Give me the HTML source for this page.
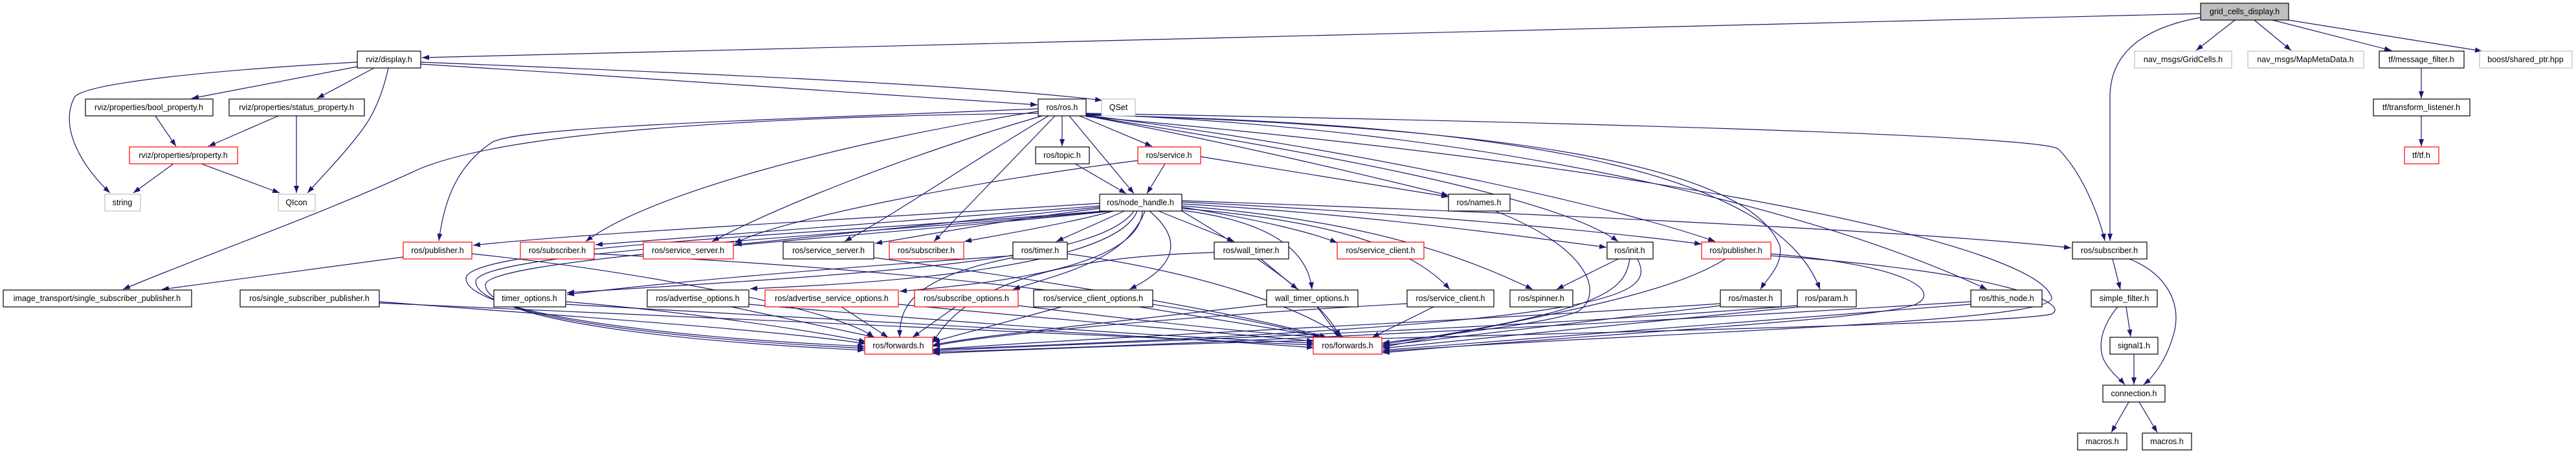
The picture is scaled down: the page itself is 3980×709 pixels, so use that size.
<!DOCTYPE html>
<html><head><meta charset="utf-8"><style>
html,body{margin:0;padding:0;background:#fff;}
svg{display:block}
text{font-family:"Liberation Sans",sans-serif;font-size:12.5px;fill:#000;text-anchor:middle}
.e{fill:none;stroke:#191970;stroke-width:1.2;marker-end:url(#a)}
.n{fill:#fff;stroke:#000;stroke-width:1.2}
.r{fill:#fff;stroke:#ff0000;stroke-width:1.2}
.g{fill:#fff;stroke:#bfbfbf;stroke-width:1.2}
</style></head><body>
<svg width="3980" height="709" viewBox="0 0 3980 709" xmlns="http://www.w3.org/2000/svg">
<defs><marker id="a" markerUnits="userSpaceOnUse" markerWidth="11" markerHeight="8" refX="11" refY="4" orient="auto"><path d="M0,0 L11,4 L0,8 z" fill="#191970"/></marker></defs>
<g>
<path class="e" d="M3400,21 L652,89"/>
<path class="e" d="M3400,27 C3300,45 3260,90 3260,150 L3260,372"/>
<path class="e" d="M3453,31 L3393,78"/>
<path class="e" d="M3483,31 L3540,78"/>
<path class="e" d="M3511,31 L3695,78"/>
<path class="e" d="M3536,31 L3835,79"/>
<path class="e" d="M552,96 C300,110 130,130 115,150 C90,200 130,260 170,298"/>
<path class="e" d="M552,103 L296,152"/>
<path class="e" d="M578,105 L490,152"/>
<path class="e" d="M600,105 C590,150 575,180 560,200 C530,240 500,270 475,298"/>
<path class="e" d="M650,96 C1000,110 1500,130 1703,155"/>
<path class="e" d="M650,99 C1000,120 1400,150 1603,162"/>
<path class="e" d="M240,179 L272,226"/>
<path class="e" d="M430,179 L322,226"/>
<path class="e" d="M458,179 L458,298"/>
<path class="e" d="M268,253 L206,298"/>
<path class="e" d="M311,253 L432,298"/>
<path class="e" d="M3741,105 L3741,152"/>
<path class="e" d="M3741,179 L3741,226"/>
<path class="e" d="M1641,179 L1641,226"/>
<path class="e" d="M1668,179 L1780,226"/>
<path class="e" d="M1652,179 L1752,299"/>
<path class="e" d="M1678,179 C1900,220 2150,280 2238,302"/>
<path class="e" d="M1604,168 C1200,185 800,195 760,220 C700,260 685,320 678,372"/>
<path class="e" d="M1604,172 C1300,220 1000,300 905,373"/>
<path class="e" d="M1610,179 C1400,240 1200,320 1100,373"/>
<path class="e" d="M1620,179 C1500,250 1400,320 1305,373"/>
<path class="e" d="M1630,179 L1443,373"/>
<path class="e" d="M1678,179 C2000,230 2400,300 2500,373"/>
<path class="e" d="M1678,178 C2100,230 2500,320 2650,373"/>
<path class="e" d="M1678,177 C2300,195 2700,250 2750,380 C2755,410 2730,430 2720,447"/>
<path class="e" d="M1678,178 C2400,190 2750,280 2812,447"/>
<path class="e" d="M1678,176 C2300,200 2800,320 3070,447"/>
<path class="e" d="M1678,175 C2500,190 3150,210 3180,230 C3220,270 3245,340 3252,372"/>
<path class="e" d="M1604,175 C1200,180 800,200 650,260 C500,330 300,400 190,447"/>
<path class="e" d="M1661,253 L1740,299"/>
<path class="e" d="M1800,253 L1772,299"/>
<path class="e" d="M1855,242 L2238,304"/>
<path class="e" d="M1758,248 C1500,280 1200,340 1135,376"/>
<path class="e" d="M1699,314 C1300,340 900,360 731,379"/>
<path class="e" d="M1699,318 C1400,340 1100,365 920,378"/>
<path class="e" d="M1699,320 C1500,340 1300,360 1135,378"/>
<path class="e" d="M1699,322 C1550,340 1450,360 1352,376"/>
<path class="e" d="M1720,326 C1650,345 1550,362 1490,373"/>
<path class="e" d="M1737,326 L1632,373"/>
<path class="e" d="M1790,326 L1907,373"/>
<path class="e" d="M1826,320 C1950,340 2030,360 2066,375"/>
<path class="e" d="M1826,315 C2100,330 2350,365 2482,382"/>
<path class="e" d="M1826,312 C2200,330 2500,360 2629,377"/>
<path class="e" d="M1826,310 C2400,330 3000,360 3200,383"/>
<path class="e" d="M1826,318 C2100,340 2250,390 2368,447"/>
<path class="e" d="M1752,326 C1700,400 1400,420 876,452"/>
<path class="e" d="M1757,326 C1720,420 1300,440 1159,446"/>
<path class="e" d="M1765,326 C1760,420 1500,440 1390,450"/>
<path class="e" d="M1769,326 C1740,400 1650,420 1565,447"/>
<path class="e" d="M1776,326 C1840,380 1800,420 1745,447"/>
<path class="e" d="M1826,325 C1950,340 2020,380 2027,447"/>
<path class="e" d="M1826,322 C2050,340 2180,380 2240,447"/>
<path class="e" d="M1705,326 C1300,360 720,380 720,430 C720,480 1000,520 1336,535"/>
<path class="e" d="M1712,326 C1300,365 735,390 735,435 C735,485 1000,522 1336,538"/>
<path class="e" d="M1718,326 C1300,370 750,400 750,440 C750,490 1000,525 1336,541"/>
<path class="e" d="M1826,326 C1950,400 2050,470 2070,521"/>
<path class="e" d="M623,397 L250,447"/>
<path class="e" d="M729,392 C1000,420 1300,480 1350,521"/>
<path class="e" d="M586,466 C900,490 1200,510 1338,531"/>
<path class="e" d="M586,468 C1200,500 1800,520 2030,533"/>
<path class="e" d="M918,392 C1500,420 1900,480 2040,521"/>
<path class="e" d="M1350,398 C1600,430 1900,480 2050,521"/>
<path class="e" d="M1565,398 C1400,430 1390,480 1390,521"/>
<path class="e" d="M1649,392 C1850,420 2000,470 2075,521"/>
<path class="e" d="M1565,395 C1200,420 1000,440 876,455"/>
<path class="e" d="M1948,400 L2005,447"/>
<path class="e" d="M1876,390 C1700,395 1500,420 1441,530"/>
<path class="e" d="M2500,400 L2405,447"/>
<path class="e" d="M2518,400 C2510,450 2480,480 2136,532"/>
<path class="e" d="M2530,400 C2560,460 2500,500 1441,540"/>
<path class="e" d="M2666,400 C2600,440 2500,470 2136,536"/>
<path class="e" d="M2310,326 C2450,380 2480,450 2440,480 C2400,500 2200,520 2136,530"/>
<path class="e" d="M874,466 C1050,480 1250,510 1338,528"/>
<path class="e" d="M874,470 C1400,500 1800,520 2030,537"/>
<path class="e" d="M1130,474 L1352,521"/>
<path class="e" d="M1157,470 C1500,500 1800,520 2030,530"/>
<path class="e" d="M1300,474 L1372,521"/>
<path class="e" d="M1388,470 C1700,500 1900,515 2030,527"/>
<path class="e" d="M1476,474 L1410,521"/>
<path class="e" d="M1573,472 C1800,500 1950,515 2040,521"/>
<path class="e" d="M1640,474 L1441,528"/>
<path class="e" d="M1760,474 L2050,521"/>
<path class="e" d="M2035,474 L2070,521"/>
<path class="e" d="M1957,470 C1700,500 1500,520 1441,533"/>
<path class="e" d="M2174,469 C1800,490 1500,520 1441,535"/>
<path class="e" d="M2215,474 L2120,521"/>
<path class="e" d="M2658,469 C2200,500 1700,520 1441,540"/>
<path class="e" d="M2660,472 L2136,534"/>
<path class="e" d="M2777,472 C2300,510 1800,525 1441,542"/>
<path class="e" d="M2780,474 L2136,538"/>
<path class="e" d="M3045,466 C2500,500 1900,530 1441,544"/>
<path class="e" d="M3045,470 L2136,541"/>
<path class="e" d="M2736,395 C3100,420 3200,470 3170,485 C3100,505 2000,520 1441,546"/>
<path class="e" d="M1678,180 C2600,260 3150,380 3170,460 C3175,500 2500,515 2136,543"/>
<path class="e" d="M2736,392 C2950,410 3000,450 2960,470 C2900,495 2400,520 2136,545"/>
<path class="e" d="M3264,400 L3276,447"/>
<path class="e" d="M3290,400 C3340,420 3370,460 3360,510 C3350,550 3330,580 3312,594"/>
<path class="e" d="M3285,474 L3292,520"/>
<path class="e" d="M3272,474 C3250,500 3240,530 3250,555 C3260,575 3275,585 3283,594"/>
<path class="e" d="M3297,547 L3297,594"/>
<path class="e" d="M3289,621 L3262,668"/>
<path class="e" d="M3305,621 L3333,668"/>
</g>
<g>
<rect x="3400" y="5" width="136" height="26" fill="#bfbfbf" stroke="#000" stroke-width="1.2"/><text x="3468" y="22">grid_cells_display.h</text>
<rect class="n" x="552" y="79" width="98" height="26"/><text x="601" y="96">rviz/display.h</text>
<rect class="g" x="3298" y="79" width="150" height="26"/><text x="3373" y="96">nav_msgs/GridCells.h</text>
<rect class="g" x="3473" y="79" width="179" height="26"/><text x="3562" y="96">nav_msgs/MapMetaData.h</text>
<rect class="n" x="3676" y="79" width="131" height="26"/><text x="3741" y="96">tf/message_filter.h</text>
<rect class="g" x="3831" y="79" width="143" height="26"/><text x="3902" y="96">boost/shared_ptr.hpp</text>
<rect class="n" x="132" y="153" width="197" height="26"/><text x="230" y="170">rviz/properties/bool_property.h</text>
<rect class="n" x="354" y="153" width="209" height="26"/><text x="458" y="170">rviz/properties/status_property.h</text>
<rect class="n" x="1604" y="153" width="74" height="26"/><text x="1641" y="170">ros/ros.h</text>
<rect class="g" x="1702" y="153" width="52" height="26"/><text x="1728" y="170">QSet</text>
<rect class="n" x="3667" y="153" width="149" height="26"/><text x="3741" y="170">tf/transform_listener.h</text>
<rect class="r" x="200" y="227" width="167" height="26"/><text x="283" y="244">rviz/properties/property.h</text>
<rect class="n" x="1600" y="227" width="83" height="26"/><text x="1641" y="244">ros/topic.h</text>
<rect class="r" x="1758" y="227" width="97" height="26"/><text x="1806" y="244">ros/service.h</text>
<rect class="r" x="3715" y="227" width="53" height="26"/><text x="3741" y="244">tf/tf.h</text>
<rect class="g" x="162" y="300" width="55" height="26"/><text x="189" y="317">string</text>
<rect class="g" x="430" y="300" width="57" height="26"/><text x="458" y="317">QIcon</text>
<rect class="n" x="1699" y="300" width="127" height="26"/><text x="1762" y="317">ros/node_handle.h</text>
<rect class="n" x="2238" y="300" width="95" height="26"/><text x="2285" y="317">ros/names.h</text>
<rect class="r" x="623" y="374" width="106" height="26"/><text x="676" y="391">ros/publisher.h</text>
<rect class="r" x="804" y="374" width="114" height="26"/><text x="861" y="391">ros/subscriber.h</text>
<rect class="r" x="994" y="374" width="139" height="26"/><text x="1063" y="391">ros/service_server.h</text>
<rect class="n" x="1210" y="374" width="140" height="26"/><text x="1280" y="391">ros/service_server.h</text>
<rect class="r" x="1374" y="374" width="115" height="26"/><text x="1431" y="391">ros/subscriber.h</text>
<rect class="n" x="1565" y="374" width="84" height="26"/><text x="1607" y="391">ros/timer.h</text>
<rect class="n" x="1876" y="374" width="115" height="26"/><text x="1933" y="391">ros/wall_timer.h</text>
<rect class="r" x="2066" y="374" width="134" height="26"/><text x="2133" y="391">ros/service_client.h</text>
<rect class="n" x="2483" y="374" width="71" height="26"/><text x="2518" y="391">ros/init.h</text>
<rect class="r" x="2629" y="374" width="107" height="26"/><text x="2682" y="391">ros/publisher.h</text>
<rect class="n" x="3202" y="374" width="115" height="26"/><text x="3259" y="391">ros/subscriber.h</text>
<rect class="n" x="5" y="448" width="291" height="26"/><text x="150" y="465">image_transport/single_subscriber_publisher.h</text>
<rect class="n" x="371" y="448" width="215" height="26"/><text x="478" y="465">ros/single_subscriber_publisher.h</text>
<rect class="n" x="763" y="448" width="111" height="26"/><text x="818" y="465">timer_options.h</text>
<rect class="n" x="1000" y="448" width="157" height="26"/><text x="1078" y="465">ros/advertise_options.h</text>
<rect class="r" x="1182" y="448" width="206" height="26"/><text x="1285" y="465">ros/advertise_service_options.h</text>
<rect class="r" x="1413" y="448" width="160" height="26"/><text x="1493" y="465">ros/subscribe_options.h</text>
<rect class="n" x="1597" y="448" width="184" height="26"/><text x="1689" y="465">ros/service_client_options.h</text>
<rect class="n" x="1957" y="448" width="141" height="26"/><text x="2027" y="465">wall_timer_options.h</text>
<rect class="n" x="2174" y="448" width="134" height="26"/><text x="2241" y="465">ros/service_client.h</text>
<rect class="n" x="2333" y="448" width="97" height="26"/><text x="2381" y="465">ros/spinner.h</text>
<rect class="n" x="2658" y="448" width="94" height="26"/><text x="2705" y="465">ros/master.h</text>
<rect class="n" x="2777" y="448" width="91" height="26"/><text x="2822" y="465">ros/param.h</text>
<rect class="n" x="3045" y="448" width="110" height="26"/><text x="3100" y="465">ros/this_node.h</text>
<rect class="n" x="3231" y="448" width="102" height="26"/><text x="3282" y="465">simple_filter.h</text>
<rect class="r" x="1336" y="521" width="105" height="26"/><text x="1388" y="538">ros/forwards.h</text>
<rect class="r" x="2029" y="521" width="106" height="26"/><text x="2082" y="538">ros/forwards.h</text>
<rect class="n" x="3260" y="521" width="74" height="26"/><text x="3297" y="538">signal1.h</text>
<rect class="n" x="3249" y="595" width="96" height="26"/><text x="3297" y="612">connection.h</text>
<rect class="n" x="3210" y="669" width="76" height="26"/><text x="3248" y="686">macros.h</text>
<rect class="n" x="3310" y="669" width="76" height="26"/><text x="3348" y="686">macros.h</text>
</g>
</svg>
</body></html>
